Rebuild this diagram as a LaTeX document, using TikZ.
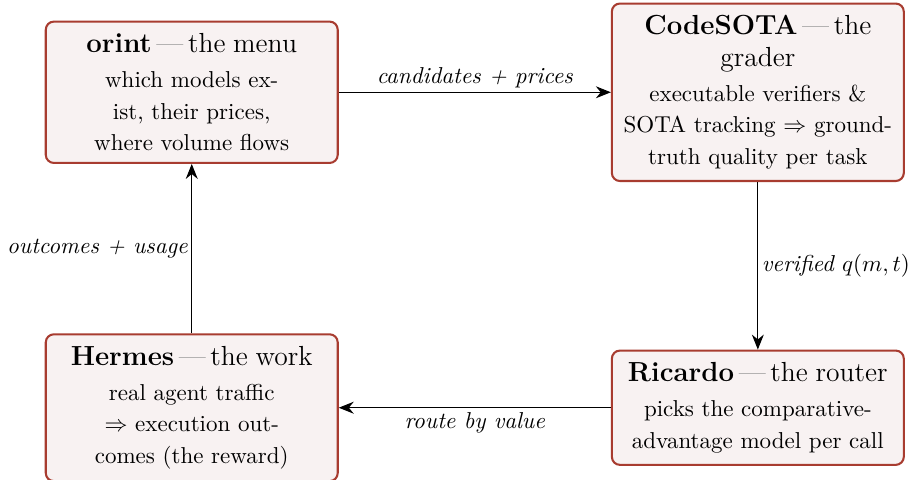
\documentclass[tikz,border=0pt]{standalone}
\usepackage{xcolor}
\usepackage{tikz}
\usetikzlibrary{arrows.meta,positioning}

\definecolor{boxborder}{RGB}{168,60,48}
\definecolor{boxfill}{RGB}{248,242,242}
\newcommand{\boxhead}[2]{{\large\textbf{#1}\,\textcolor{gray}{---}\,#2}}

\begin{document}
\begin{tikzpicture}[
        stage/.style={
            draw=boxborder,
            fill=boxfill,
            line width=0.9pt,
            rounded corners=3.5pt,
            inner xsep=3pt,
            inner ysep=5.2pt,
            text width=4.25cm,
            align=center,
            font=\fontsize{10}{13.7}\selectfont
        },
        flow/.style={
            -{Stealth[length=6.5pt,width=5.2pt]},
            line width=0.5pt
        },
        flowlabel/.style={
            font=\itshape,
            inner sep=1.5pt
        }
    ]
    \useasboundingbox (0,0) rectangle (13.89,7.32);

    % the four stages of the loop
    \node[stage] (orint) at (2.93,5.91)
        {\boxhead{orint}{the menu}\\[1.5pt]
         which models ex-\\ist, their prices,\\where volume flows};

    \node[stage] (codesota) at (11.58,5.91)
        {\boxhead{CodeSOTA}{the\\grader}\\[1.5pt]
         executable verifiers \&\\SOTA tracking $\Rightarrow$ ground-\\truth quality per task};

    \node[stage] (ricardo) at (11.58,1.09)
        {\boxhead{Ricardo}{the router}\\[1.5pt]
         picks the comparative-\\advantage model per call};

    \node[stage] (hermes) at (2.93,1.09)
        {\boxhead{Hermes}{the work}\\[1.5pt]
         real agent traffic\\$\Rightarrow$ execution out-\\comes (the reward)};

    % arrows round the loop
    \draw[flow] (orint) -- (codesota)
        node[midway, above, flowlabel] {candidates + prices};

    \draw[flow] (codesota) -- (ricardo)
        node[midway, right, flowlabel, fill=white] {verified $q(m,t)$};

    \draw[flow] (ricardo.west) -- (hermes.east |- ricardo.west)
        node[midway, below=0.5pt, flowlabel] {route by value};

    \draw[flow] (hermes) -- (orint)
        node[midway, left, flowlabel] {outcomes + usage};

\end{tikzpicture}
\end{document}
